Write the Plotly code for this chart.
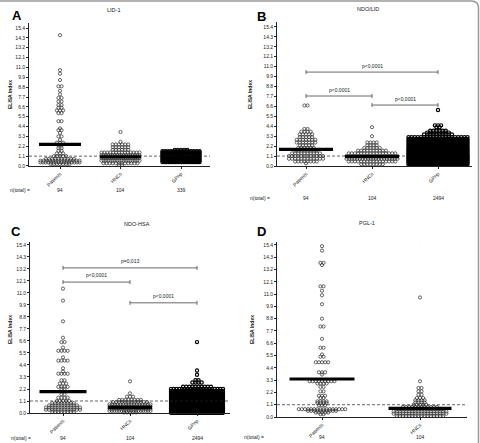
import plotly.graph_objects as go

W, H = 480, 443

# ---------------- data ----------------
cats3 = ["Patients", "HNCs", "GPnp"]
cats2 = ["Patients", "HNCs"]
y_ticks = [0.0, 1.1, 2.2, 3.3, 4.4, 5.5, 6.6, 7.7, 8.8, 9.9, 11.0, 12.1, 13.2, 14.3, 15.4]
cutoff = 1.1

# Panel A  LID-1   (row value, number of dots in the row)
A_pat_v = [14.6, 10.7, 10.3, 9.6, 8.9, 8.4, 8.0, 7.6, 7.2, 6.8, 6.5, 6.2, 5.9, 5.0, 4.2, 4.0, 3.7, 3.3, 2.9, 2.6, 2.3, 2.0, 1.7, 1.4, 1.1, 0.8, 0.6, 0.4, 0.2]
A_pat_c = [1, 1, 1, 1, 2, 1, 1, 2, 2, 2, 2, 3, 2, 2, 1, 2, 1, 2, 1, 3, 2, 2, 2, 3, 5, 10, 14, 16, 7]
A_hnc_v = [3.8, 2.7, 2.4, 2.1, 1.8, 1.5, 1.2, 0.9, 0.6, 0.3, 0.1]
A_hnc_c = [1, 1, 6, 6, 6, 14, 18, 20, 18, 12, 2]
A_gp_v = [1.8, 1.65, 1.5, 1.35, 1.2, 1.05, 0.9, 0.75, 0.6, 0.45]
A_gp_c = [5, 14, 28, 38, 45, 50, 50, 45, 38, 26]
A_means = [2.42, 1.03, 0.95]
A_n = ["94", "104", "339"]

# Panel B  NDO/LID
B_pat_v = [6.7, 4.1, 3.8, 3.5, 3.2, 2.9, 2.6, 2.3, 2.0, 1.7, 1.4, 1.1, 0.8, 0.5, 0.3]
B_pat_c = [2, 2, 4, 5, 5, 7, 7, 5, 6, 8, 10, 12, 12, 8, 1]
B_hnc_v = [4.3, 3.3, 2.6, 2.3, 2.0, 1.7, 1.4, 1.1, 0.8, 0.5, 0.2]
B_hnc_c = [1, 1, 4, 4, 6, 10, 16, 18, 20, 16, 8]
B_gp_v = [6.2, 4.5, 4.3, 3.9, 3.7, 3.5, 3.2, 3.0, 2.8, 2.6, 2.4, 2.2, 2.0, 1.8, 1.6, 1.4, 1.2, 1.0, 0.8, 0.6, 0.4, 0.2]
B_gp_c = [1, 3, 2, 6, 8, 10, 20, 40, 60, 80, 100, 120, 140, 160, 180, 200, 240, 260, 260, 240, 210, 154]
B_means = [1.85, 1.03, 1.2]
B_n = ["94", "104", "2494"]
B_pairs = [(0, 2), (0, 1), (1, 2)]
B_pair_y = [10.4, 7.75, 6.75]
B_pair_txt = ["p<0,0001", "p<0,0001", "p<0,0001"]

# Panel C  NDO-HSA
C_pat_v = [11.4, 10.3, 8.4, 6.9, 6.5, 6.0, 5.7, 5.1, 4.8, 4.1, 3.8, 3.6, 3.0, 2.7, 2.4, 2.2, 1.7, 1.4, 1.1, 0.9, 0.7, 0.5, 0.3, 0.1]
C_pat_c = [1, 1, 1, 1, 2, 1, 4, 1, 4, 1, 1, 4, 2, 3, 4, 2, 2, 4, 5, 8, 10, 12, 12, 8]
C_hnc_v = [2.9, 1.8, 1.5, 1.2, 1.0, 0.8, 0.6, 0.4, 0.2, 0.05]
C_hnc_c = [1, 1, 3, 8, 12, 16, 20, 20, 18, 5]
C_gp_v = [6.5, 3.9, 3.5, 3.0, 2.8, 2.4, 2.2, 2.0, 1.8, 1.6, 1.4, 1.2, 1.0, 0.8, 0.6, 0.4, 0.2, 0.05]
C_gp_c = [1, 1, 1, 2, 4, 10, 20, 40, 70, 110, 160, 220, 270, 320, 360, 380, 340, 185]
C_means = [1.95, 0.52, 0.67]
C_n = ["94", "104", "2494"]
C_pairs = [(0, 2), (0, 1), (1, 2)]
C_pair_y = [13.3, 12.0, 10.1]
C_pair_txt = ["p=0,013", "p<0,0001", "p<0,0001"]

# Panel D  PGL-1
D_pat_v = [15.3, 14.9, 13.8, 13.6, 11.7, 11.3, 10.9, 10.1, 8.8, 8.1, 7.0, 6.2, 5.6, 5.4, 4.9, 4.0, 3.8, 3.2, 3.0, 2.7, 2.3, 1.9, 1.7, 1.4, 1.25, 1.05, 0.7, 0.55, 0.4, 0.25]
D_pat_c = [1, 1, 2, 1, 2, 1, 1, 1, 1, 2, 1, 2, 1, 2, 5, 3, 1, 9, 4, 2, 2, 3, 2, 4, 4, 3, 16, 10, 5, 2]
D_hnc_v = [10.7, 3.2, 2.6, 2.3, 2.0, 1.7, 1.5, 1.3, 1.1, 0.9, 0.7, 0.5, 0.3, 0.1]
D_hnc_c = [1, 1, 2, 2, 2, 3, 4, 4, 5, 12, 16, 18, 18, 16]
D_means = [3.4, 0.78]
D_n = ["94", "104"]
D_pairs = [(0, 1)]
D_pair_y = [15.9]
D_pair_txt = ["p<0,0001"]

# ---------------- layout / style ----------------
FONT = "Liberation Sans, Arial, sans-serif"
TXT = "#1a1a1a"
panels = [
    dict(letter="A", title="LID-1", cats=cats3, groups=[(A_pat_v, A_pat_c), (A_hnc_v, A_hnc_c), (A_gp_v, A_gp_c)],
         means=A_means, n=A_n, pairs=[], pair_y=[], pair_txt=[],
         x0=29, x1=210, cx=[60, 120.5, 181], ybase=166, ppu=8.96, ytop=15.95,
         half=[21, 20.5, 20], title_xy=(113, 10), letter_xy=(17, 15), ylab_xy=(10, 95), n_xy=(8, 190)),
    dict(letter="B", title="NDO/LID", cats=cats3, groups=[(B_pat_v, B_pat_c), (B_hnc_v, B_hnc_c), (B_gp_v, B_gp_c)],
         means=B_means, n=B_n, pairs=B_pairs, pair_y=B_pair_y, pair_txt=B_pair_txt,
         x0=277, x1=472, cx=[306, 372, 438], ybase=166, ppu=9.03, ytop=15.9,
         half=[27, 27, 31], title_xy=(368, 9), letter_xy=(261, 16), ylab_xy=(250, 95), n_xy=(248, 198)),
    dict(letter="C", title="NDO-HSA", cats=cats3, groups=[(C_pat_v, C_pat_c), (C_hnc_v, C_hnc_c), (C_gp_v, C_gp_c)],
         means=C_means, n=C_n, pairs=C_pairs, pair_y=C_pair_y, pair_txt=C_pair_txt,
         x0=30, x1=230, cx=[63, 130, 197], ybase=413, ppu=10.91, ytop=15.7,
         half=[23.5, 22, 27.5], title_xy=(137, 224), letter_xy=(16, 231), ylab_xy=(10, 330), n_xy=(9, 438)),
    dict(letter="D", title="PGL-1", cats=cats2, groups=[(D_pat_v, D_pat_c), (D_hnc_v, D_hnc_c)],
         means=D_means, n=D_n, pairs=D_pairs, pair_y=D_pair_y, pair_txt=D_pair_txt,
         x0=277, x1=467, cx=[322, 420], ybase=417, ppu=11.17, ytop=15.7,
         half=[32.5, 31.5], title_xy=(367, 223), letter_xy=(261, 231), ylab_xy=(252, 330), n_xy=(242, 437)),
]

STEP_PX = 3.1


def swarm(vals, counts, center, half_px, px_per_x):
    xs, ys = [], []
    for v, n in zip(vals, counts):
        if n == 1:
            offs = [0.0]
        else:
            sp = min(STEP_PX, 2 * (half_px - 1.5) / (n - 1))
            offs = [(i - (n - 1) / 2) * sp for i in range(n)]
        xs += [center + o / px_per_x for o in offs]
        ys += [v] * n
    return xs, ys


def fx(px):
    return px / W


def fy(py):
    return 1 - py / H


fig = go.Figure()
shapes, annots = [], []
layout_axes = {}

for i, p in enumerate(panels, start=1):
    xa = "x" if i == 1 else f"x{i}"
    ya = "y" if i == 1 else f"y{i}"
    ncat = len(p["cats"])
    sx = (p["cx"][-1] - p["cx"][0]) / (ncat - 1)
    xr = [(p["x0"] - p["cx"][0]) / sx, (p["x1"] - p["cx"][0]) / sx]
    ytop_px = p["ybase"] - p["ytop"] * p["ppu"]

    layout_axes["xaxis" if i == 1 else f"xaxis{i}"] = dict(
        domain=[fx(p["x0"]), fx(p["x1"])], range=xr, anchor=ya,
        showline=True, linecolor="#222", linewidth=0.8, showgrid=False, zeroline=False,
        ticks="outside", ticklen=2, tickwidth=0.7, tickcolor="#222",
        tickvals=list(range(ncat)), ticktext=p["cats"], tickangle=-45,
        tickfont=dict(family=FONT, size=5, color=TXT), automargin=False, fixedrange=True)
    layout_axes["yaxis" if i == 1 else f"yaxis{i}"] = dict(
        domain=[fy(p["ybase"]), fy(ytop_px)], range=[0, p["ytop"]], anchor=xa,
        showline=True, linecolor="#222", linewidth=0.8, showgrid=False, zeroline=False,
        ticks="outside", ticklen=2, tickwidth=0.7, tickcolor="#222",
        tickvals=y_ticks, ticktext=[f"{t:.1f}" for t in y_ticks],
        tickfont=dict(family=FONT, size=5, color=TXT), automargin=False, fixedrange=True)

    # dots
    for g, (vals, cnts) in enumerate(p["groups"]):
        xs, ys = swarm(vals, cnts, g, p["half"][g], sx)
        dense = sum(cnts) > 300
        col = "black" if dense else "#333"
        fig.add_trace(go.Scatter(
            x=xs, y=ys, xaxis=xa, yaxis=ya, mode="markers", showlegend=False, cliponaxis=False,
            marker=dict(symbol="circle-open", size=3.2, color=col,
                        line=dict(width=1.2 if dense else 0.75, color=col)),
            hoverinfo="skip"))

    # cutoff dashed line
    shapes.append(dict(type="line", xref=xa, yref=ya, x0=xr[0], x1=xr[1], y0=cutoff, y1=cutoff,
                       line=dict(color="#222", width=0.7, dash="3px,2px")))
    # mean bars
    for g, m in enumerate(p["means"]):
        hw = p["half"][g] / sx
        shapes.append(dict(type="line", xref=xa, yref=ya, x0=g - hw, x1=g + hw, y0=m, y1=m,
                           line=dict(color="black", width=3.2)))
    # significance brackets
    tick_h = 2.0 / p["ppu"]
    for (a, b), yv, txt in zip(p["pairs"], p["pair_y"], p["pair_txt"]):
        shapes.append(dict(type="line", xref=xa, yref=ya, x0=a, x1=b, y0=yv, y1=yv,
                           line=dict(color="#444", width=0.8)))
        for xe in (a, b):
            shapes.append(dict(type="line", xref=xa, yref=ya, x0=xe, x1=xe, y0=yv - tick_h, y1=yv + tick_h,
                               line=dict(color="#444", width=0.8)))
        annots.append(dict(xref=xa, yref=ya, x=(a + b) / 2, y=yv + 0.15, text=txt, showarrow=False,
                           xanchor="center", yanchor="bottom", font=dict(family=FONT, size=5, color=TXT)))

    # texts
    annots.append(dict(xref="paper", yref="paper", x=fx(p["title_xy"][0]), y=fy(p["title_xy"][1]),
                       text=p["title"], showarrow=False, xanchor="center", yanchor="middle",
                       font=dict(family=FONT, size=5.5, color=TXT)))
    annots.append(dict(xref="paper", yref="paper", x=fx(p["letter_xy"][0]), y=fy(p["letter_xy"][1]),
                       text=f"<b>{p['letter']}</b>", showarrow=False, xanchor="center", yanchor="middle",
                       font=dict(family=FONT, size=13, color="black")))
    annots.append(dict(xref="paper", yref="paper", x=fx(p["ylab_xy"][0]), y=fy(p["ylab_xy"][1]),
                       text="<b>ELISA Index</b>", showarrow=False, xanchor="center", yanchor="middle",
                       textangle=-90, font=dict(family=FONT, size=5, color=TXT)))
    annots.append(dict(xref="paper", yref="paper", x=fx(p["n_xy"][0]), y=fy(p["n_xy"][1]),
                       text="n(total) =", showarrow=False, xanchor="left", yanchor="middle",
                       font=dict(family=FONT, size=5, color=TXT)))
    for g, nt in enumerate(p["n"]):
        annots.append(dict(xref="paper", yref="paper", x=fx(p["cx"][g]), y=fy(p["n_xy"][1]),
                           text=nt, showarrow=False, xanchor="center", yanchor="middle",
                           font=dict(family=FONT, size=5, color=TXT)))

# outer frame (top and right edge with rounded corner)
path = (f"M {fx(-3)},{fy(1)} L {fx(471)},{fy(1)} Q {fx(478.5)},{fy(1)} {fx(478.5)},{fy(8)} "
        f"L {fx(478.5)},{fy(446)}")
shapes.append(dict(type="path", xref="paper", yref="paper", path=path, line=dict(color="#999", width=1.5)))

fig.update_layout(
    width=W, height=H, margin=dict(l=0, r=0, t=0, b=0),
    paper_bgcolor="white", plot_bgcolor="white", template="none",
    showlegend=False, shapes=shapes, annotations=annots, **layout_axes)

fig.write_html("out.html", config={"displayModeBar": False, "responsive": False})
